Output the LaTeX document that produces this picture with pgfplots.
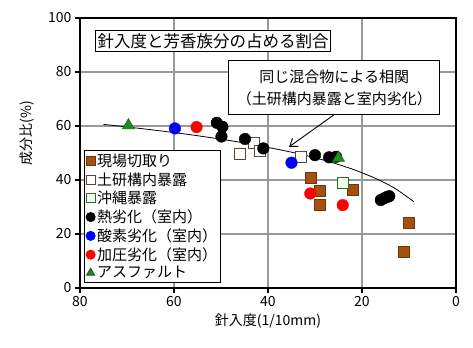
\documentclass[border=0pt]{standalone}
\usepackage{fontspec}
\setmainfont{Noto Sans CJK JP}
\usepackage{pgfplots}
\pgfplotsset{compat=1.18}
\usetikzlibrary{arrows.meta}
\definecolor{brownsq}{RGB}{165,80,15}
\definecolor{browndk}{RGB}{110,55,10}
\definecolor{opensq}{RGB}{90,70,50}
\definecolor{greensq}{RGB}{40,110,40}
\definecolor{greenlt}{RGB}{240,255,240}
\definecolor{tri}{RGB}{30,140,30}
\definecolor{tridk}{RGB}{20,90,20}
\begin{document}
\begin{tikzpicture}
\useasboundingbox (-80bp,-60bp) rectangle (393bp,288bp);
\begin{axis}[
  scale only axis, width=376bp, height=270bp,
  x dir=reverse, xmin=0, xmax=80, ymin=0, ymax=100,
  xtick={0,20,...,80}, ytick={0,20,...,100},
  grid=major, major grid style={black!40, line width=1.1pt},
  axis line style={line width=1.3pt},
  tick align=outside, xtick pos=bottom, ytick pos=left, major tick length=5bp,
  tick style={black, line width=1.3pt},
  tick label style={font=\fontsize{14bp}{16bp}\selectfont},
  /pgf/number format/assume math mode=true,
  xlabel={針入度(1/10mm)}, ylabel={成分比(\%)},
  label style={font=\fontsize{14bp}{16bp}\selectfont},
  ylabel style={xshift=20bp, yshift=7bp},
  legend style={at={(rel axis cs:0.011,0.51)}, anchor=north west, draw=black, line width=1pt,
    font=\fontsize{15bp}{18bp}\selectfont, inner sep=1.5pt, row sep=0.5bp},
  legend cell align=left,
  legend image post style={mark size=4.5bp},
]
\addplot[black, line width=0.8pt, smooth, forget plot] coordinates {
  (75,60.6) (65,58.65) (55,56.4) (45,53.7) (35,50.3) (28,47.3) (22,44.0) (17,40.5) (13,36.9) (9,32.0)};
\addplot[only marks, mark=square*, mark size=5.5bp, mark options={fill=brownsq, draw=browndk, line width=0.6pt}] coordinates {
  (30.9,41) (29,36) (29,30.7) (22,36.5) (10.1,24) (11.2,13.4)};
\addlegendentry{現場切取り}
\addplot[only marks, mark=square*, mark size=5.5bp, mark options={fill=white, draw=opensq, line width=0.8pt}] coordinates {
  (46,49.5) (43.1,53.8) (41.8,50.7) (33,48.7)};
\addlegendentry{土研構内暴露}
\addplot[only marks, mark=square*, mark size=5.5bp, mark options={fill=greenlt, draw=greensq, line width=0.8pt}] coordinates {
  (24.1,39)};
\addlegendentry{沖縄暴露}
\addplot[only marks, mark=*, mark size=5.8bp, mark options={fill=black, draw=black}] coordinates {
  (50.9,61.2) (49.7,59.7) (49.9,56.1) (44.9,55.2) (41,51.7) (30,49.2) (27,48.4) (25.5,48.6)
  (16,32.6) (15.3,33.2) (14.7,33.7) (14.2,34)};
\addlegendentry{熱劣化（室内）}
\addplot[only marks, mark=*, mark size=5.8bp, mark options={fill=blue, draw=blue}] coordinates {
  (59.8,59.1) (35,46.4)};
\addlegendentry{酸素劣化（室内）}
\addplot[only marks, mark=*, mark size=5.8bp, mark options={fill=red, draw=red}] coordinates {
  (55.2,59.6) (31,35) (24.1,30.7)};
\addlegendentry{加圧劣化（室内）}
\addplot[only marks, mark=triangle*, mark size=7bp, mark options={fill=tri, draw=tridk}] coordinates {
  (69.7,60.2) (25,48.2)};
\addlegendentry{アスファルト}
\node[draw=black, line width=1pt, fill=white, inner xsep=2bp, inner ysep=2.5bp,
  font=\fontsize{16.5bp}{18bp}\selectfont] at (axis cs:51.7,91.5) {針入度と芳香族分の占める割合};
\node[draw=black, line width=1pt, fill=white, align=center, minimum width=211bp, minimum height=54bp,
  inner sep=2bp, font=\fontsize{15bp}{22bp}\selectfont] (cb) at (axis cs:25.9,74.1)
  {同じ混合物による相関\\（土研構内暴露と室内劣化）};
\draw[line width=0.9pt, -{Straight Barb[length=7bp,width=10bp]}] (axis cs:26,64.1) -- (axis cs:35.5,52.3);
\end{axis}
\end{tikzpicture}
\end{document}
